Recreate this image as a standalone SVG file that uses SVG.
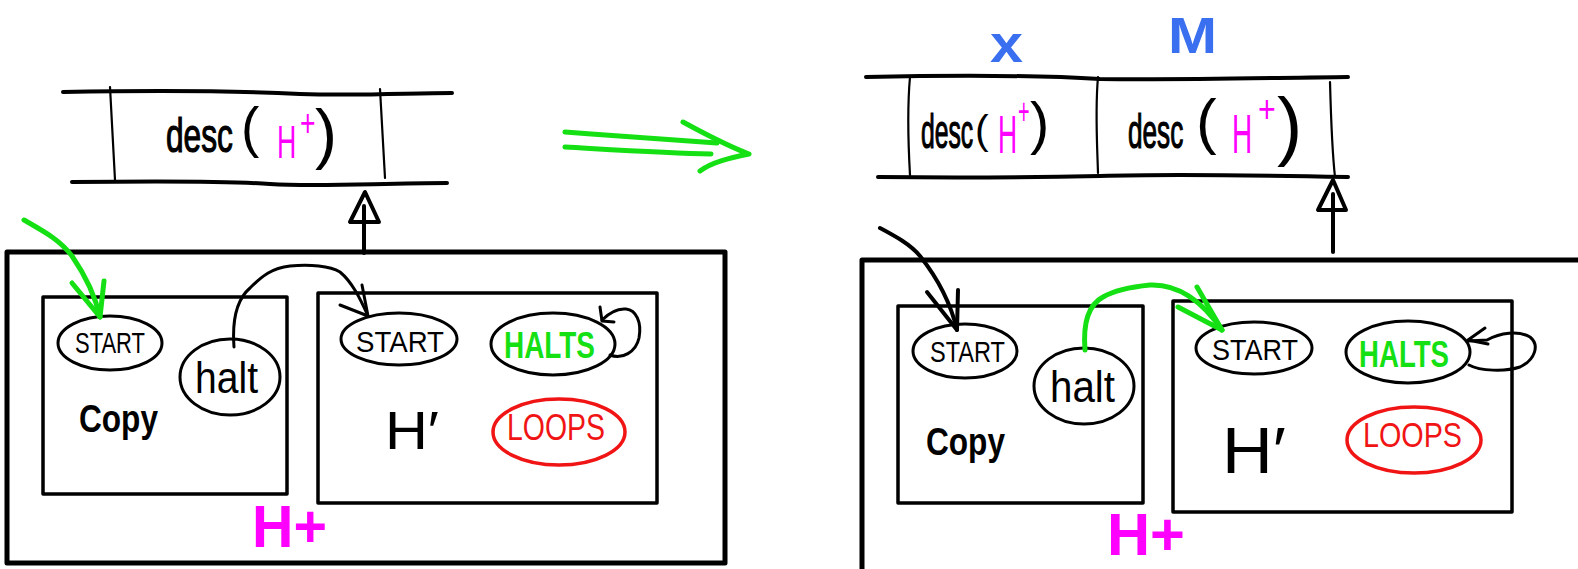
<svg xmlns="http://www.w3.org/2000/svg" width="1578" height="569" viewBox="0 0 1578 569">
  <style>
    .ink { fill: none; stroke: #000; stroke-linecap: round; stroke-linejoin: round; }
    .outer { stroke-width: 5; }
    .box { stroke-width: 3.5; }
    .state { fill: #fff; stroke: #000; stroke-width: 3; }
    .loops { fill: #fff; stroke: #f01414; stroke-width: 3.5; }
    .tapeh { stroke-width: 4; }
    .tapev { stroke-width: 2.2; }
    .go { fill: none; stroke: #14e014; stroke-width: 5; stroke-linecap: round; stroke-linejoin: round; }
    .edge { fill: none; stroke: #000; stroke-width: 3; stroke-linecap: round; stroke-linejoin: round; }
    .edge-thick { fill: none; stroke: #000; stroke-width: 4; stroke-linecap: round; stroke-linejoin: round; }
    .t { font-family: "Liberation Sans", "DejaVu Sans", Arial, sans-serif; fill: #000; }
    .cell { stroke: #000; stroke-width: 1.2; }
    .mag { fill: #ff00ff; }
    .grn { fill: #14e014; }
    .red { fill: #f01414; }
    .blue { fill: #3a6ff0; }
  </style>

  <!-- ===== left: tape holding desc(H+) ===== -->
  <g id="tape-left">
    <path class="ink tapeh" d="M63,92 C180,90 260,92 300,94 C360,96 410,93 452,93"/>
    <path class="ink tapeh" d="M72,182 C160,181 230,181 270,184 C320,187 380,183 447,183"/>
    <path class="ink tapev" d="M110,87 L115,180"/>
    <path class="ink tapev" d="M380,89 L385,178"/>
    <text class="t cell" x="166" y="152" font-size="48" transform="matrix(0.66,0,0,1,56.44,0)">desc</text>
    <text class="t" x="241" y="146" font-size="55">(</text>
    <text class="t mag" x="277" y="158" font-size="46" transform="matrix(0.58,0,0,1,116.34,0)">H</text>
    <text class="t mag" x="300" y="136" font-size="38" transform="matrix(0.7,0,0,1,90,0)">+</text>
    <text class="t" x="315" y="156" font-size="66">)</text>
  </g>

  <!-- ===== left: machine H+ ===== -->
  <g id="machine-left">
    <path class="ink outer" d="M7,252 L725,252 L725,563 L7,563 Z"/>
    <text class="t mag" x="252" y="547" font-size="60" font-weight="bold" textLength="75" lengthAdjust="spacingAndGlyphs">H+</text>
  </g>

  <g id="copy-left">
    <rect class="ink box" x="43" y="297" width="244" height="197"/>
    <text class="t" x="79" y="432" font-size="38" font-weight="bold" textLength="79" lengthAdjust="spacingAndGlyphs">Copy</text>
  </g>
  <g id="copy-left-start">
    <ellipse class="state" cx="110" cy="343" rx="52" ry="27"/>
    <text class="t" x="75" y="353" font-size="30" textLength="70" lengthAdjust="spacingAndGlyphs">START</text>
  </g>
  <g id="copy-left-halt">
    <ellipse class="state" cx="230" cy="377" rx="50" ry="38"/>
    <text class="t" x="195" y="393" font-size="44" textLength="63" lengthAdjust="spacingAndGlyphs">halt</text>
  </g>

  <g id="hprime-left">
    <rect class="ink box" x="318" y="293" width="339" height="210"/>
    <text class="t" x="385" y="449" font-size="54" textLength="54" lengthAdjust="spacingAndGlyphs">H′</text>
  </g>
  <g id="hprime-left-start">
    <ellipse class="state" cx="399" cy="339" rx="58" ry="26"/>
    <text class="t" x="356" y="352" font-size="30" textLength="88" lengthAdjust="spacingAndGlyphs">START</text>
  </g>
  <g id="hprime-left-halts">
    <ellipse class="state" cx="553" cy="344" rx="62" ry="31"/>
    <text class="t grn" x="504" y="358" font-size="36" font-weight="bold" textLength="91" lengthAdjust="spacingAndGlyphs">HALTS</text>
  </g>
  <g id="hprime-left-loops">
    <ellipse class="loops" cx="559" cy="432" rx="66" ry="33"/>
    <text class="t red" x="507" y="440" font-size="37" textLength="98" lengthAdjust="spacingAndGlyphs">LOOPS</text>
  </g>

  <!-- ===== right: tape holding x = desc(H+), M = desc(H+) ===== -->
  <g id="tape-right">
    <path class="ink tapeh" d="M866,77 C960,75 1050,76 1100,79 C1180,80 1260,78 1348,77"/>
    <path class="ink tapeh" d="M878,177 C980,178 1050,177 1100,176 C1160,174 1250,175 1348,177"/>
    <path class="ink tapev" d="M910,77 C907,110 908,140 910,175"/>
    <path class="ink tapev" d="M1098,77 C1095,110 1097,140 1098,173"/>
    <path class="ink tapev" d="M1330,82 C1331,120 1332,150 1335,177"/>
    <!-- cell x -->
    <text class="t cell" x="921" y="148" font-size="48" transform="matrix(0.515,0,0,1,446.685,0)">desc</text>
    <text class="t" x="975" y="144" font-size="41">(</text>
    <text class="t mag" x="998" y="153" font-size="53" transform="matrix(0.5,0,0,1,499,0)">H</text>
    <text class="t mag" x="1018" y="124" font-size="36" transform="matrix(0.55,0,0,1,458.1,0)">+</text>
    <text class="t" x="1030" y="143" font-size="58">)</text>
    <!-- cell M -->
    <text class="t cell" x="1128" y="148" font-size="48" transform="matrix(0.545,0,0,1,513.24,0)">desc</text>
    <text class="t" x="1196" y="142" font-size="62">(</text>
    <text class="t mag" x="1232" y="153" font-size="56" transform="matrix(0.5,0,0,1,616,0)">H</text>
    <text class="t mag" x="1258" y="122" font-size="38" transform="matrix(0.8,0,0,1,251.6,0)">+</text>
    <text class="t" x="1277" y="151" font-size="76">)</text>
    <text class="t blue" x="990" y="62" font-size="54" font-weight="bold" textLength="33" lengthAdjust="spacingAndGlyphs">x</text>
    <text class="t blue" x="1168" y="53" font-size="50" font-weight="bold" textLength="49" lengthAdjust="spacingAndGlyphs">M</text>
  </g>

  <!-- ===== right: machine H+ ===== -->
  <g id="machine-right">
    <path class="ink outer" d="M1582,260 L862,260 L862,574"/>
    <text class="t mag" x="1107" y="555" font-size="60" font-weight="bold" textLength="78" lengthAdjust="spacingAndGlyphs">H+</text>
  </g>

  <g id="copy-right">
    <rect class="ink box" x="898" y="306" width="245" height="197"/>
    <text class="t" x="926" y="455" font-size="38" font-weight="bold" textLength="79" lengthAdjust="spacingAndGlyphs">Copy</text>
  </g>
  <g id="copy-right-start">
    <ellipse class="state" cx="965" cy="351" rx="52" ry="27"/>
    <text class="t" x="930" y="362" font-size="30" textLength="75" lengthAdjust="spacingAndGlyphs">START</text>
  </g>
  <g id="copy-right-halt">
    <ellipse class="state" cx="1084" cy="386" rx="50" ry="38"/>
    <text class="t" x="1050" y="402" font-size="44" textLength="65" lengthAdjust="spacingAndGlyphs">halt</text>
  </g>

  <g id="hprime-right">
    <rect class="ink box" x="1173" y="301" width="339" height="211"/>
    <text class="t" x="1222" y="473" font-size="64" textLength="64" lengthAdjust="spacingAndGlyphs">H′</text>
  </g>
  <g id="hprime-right-start">
    <ellipse class="state" cx="1254" cy="348" rx="58" ry="26"/>
    <text class="t" x="1212" y="360" font-size="30" textLength="86" lengthAdjust="spacingAndGlyphs">START</text>
  </g>
  <g id="hprime-right-halts">
    <ellipse class="state" cx="1408" cy="352" rx="62" ry="31"/>
    <text class="t grn" x="1359" y="367" font-size="37" font-weight="bold" textLength="90" lengthAdjust="spacingAndGlyphs">HALTS</text>
  </g>
  <g id="hprime-right-loops">
    <ellipse class="loops" cx="1414" cy="440" rx="67" ry="33"/>
    <text class="t red" x="1363" y="447" font-size="35" textLength="99" lengthAdjust="spacingAndGlyphs">LOOPS</text>
  </g>

  <!-- ===== connectors ===== -->
  <g id="connectors">
    <!-- left: head reads the tape -->
    <path class="edge-thick" d="M364,253 L364,206"/>
    <path class="edge-thick" d="M365,192 L350,222 L379,222 Z" fill="none"/>
    <!-- left: entry into Copy.START -->
    <path class="go" d="M24,220 C45,232 60,240 72,256 C85,275 95,295 100,317"/>
    <path class="go" d="M72,283 L100,317 L104,281"/>
    <!-- left: Copy.halt to H'.START -->
    <path class="edge" d="M234,347 C232,320 236,300 250,288 C262,276 272,268 290,266 C310,264 330,266 340,272 C352,282 360,298 368,316"/>
    <path class="edge" d="M340,305 L368,316 L362,285"/>
    <!-- left: HALTS self loop -->
    <path class="edge" d="M610,355 C622,360 636,352 639,338 C642,322 636,310 626,309 C616,308 608,314 602,320"/>
    <path class="edge" d="M600,307 L602,321 L614,322"/>

    <!-- transition between the two configurations -->
    <path class="go" d="M565,132 C620,136 680,140 717,143"/>
    <path class="go" d="M565,147 C620,150 670,153 711,154"/>
    <path class="go" d="M683,122 C705,134 728,146 749,154 C730,158 712,162 700,171"/>

    <!-- right: head reads the tape -->
    <path class="edge-thick" d="M1333,252 L1333,194"/>
    <path class="edge-thick" d="M1333,180 L1318,210 L1346,210 Z" fill="none"/>
    <!-- right: entry into Copy.START -->
    <path class="edge-thick" d="M880,228 C895,236 910,244 920,256 C935,275 950,300 957,330"/>
    <path class="edge-thick" d="M927,292 L957,330 L958,290"/>
    <!-- right: Copy.halt to H'.START -->
    <path class="go" d="M1085,350 C1083,325 1088,305 1103,297 C1115,290 1130,287 1150,285 C1175,284 1200,298 1222,330"/>
    <path class="go" d="M1197,287 L1222,330 L1178,307"/>
    <!-- right: HALTS self loop -->
    <path class="edge" d="M1469,365 C1480,371 1505,372 1520,367 C1535,360 1540,345 1530,337 C1518,330 1500,333 1487,340 L1468,341"/>
    <path class="edge" d="M1485,328 L1468,340 L1488,344"/>
  </g>
</svg>
